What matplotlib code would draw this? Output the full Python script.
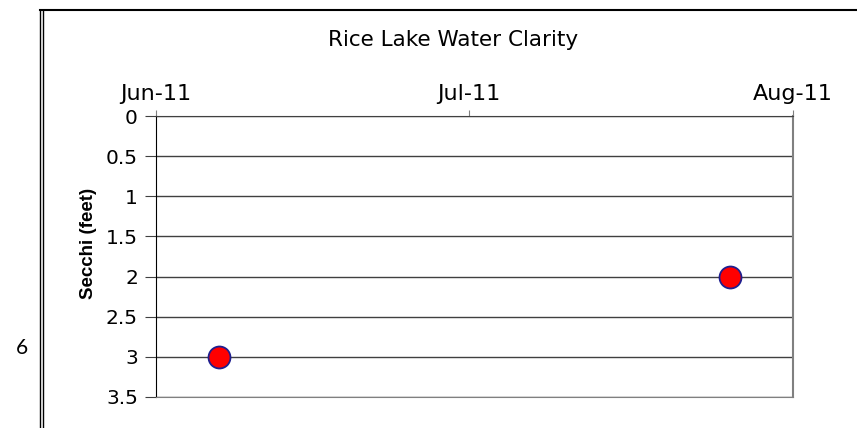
import numpy as np
import matplotlib.pyplot as plt
from datetime import date

plt.rcParams['font.family'] = ['DejaVu Sans']

dates = [date(2011, 6, 7), date(2011, 7, 26)]
secchi = [3.0, 2.0]
x_ticks = [date(2011, 6, 1), date(2011, 7, 1), date(2011, 8, 1)]
x_labels = ['Jun-11', 'Jul-11', 'Aug-11']
y_ticks = np.arange(0, 3.51, 0.5)
y_labels = ['0', '0.5', '1', '1.5', '2', '2.5', '3', '3.5']

fig = plt.figure(figsize=(8.57, 4.28), dpi=100)
ax = fig.add_axes([156/857, 1 - 397/428, (793 - 156)/857, (397 - 116)/428])

ax.scatter(dates, secchi, s=250, color='#ff0000', edgecolor='#1f1f8f',
           linewidth=1.3, zorder=3, clip_on=False)

ax.set_xlim(x_ticks[0], x_ticks[-1])
ax.set_ylim(3.5, 0)
ax.set_xticks(x_ticks)
ax.set_xticklabels(x_labels, fontsize=16)
ax.set_yticks(y_ticks)
ax.set_yticklabels(y_labels, fontsize=14.5)
ax.xaxis.tick_top()
ax.tick_params(axis='x', direction='out', length=4, pad=5, color='#808080')
ax.tick_params(axis='y', direction='out', length=8, pad=5, color='#404040')

ax.grid(axis='y', color='#404040', linewidth=1)
ax.spines['top'].set_color('#404040')
ax.spines['bottom'].set_color('#808080')
ax.spines['left'].set_color('black')
ax.spines['right'].set_color('#808080')
ax.spines['right'].set_linewidth(1.5)

ax.set_ylabel('Secchi (feet)', fontsize=13.5, fontweight='bold',
              family='Liberation Sans')
ax.yaxis.set_label_coords(-0.092, 0.548)

fig.text(453/857, 1 - 40/428, 'Rice Lake Water Clarity', fontsize=15.5,
         ha='center', va='center')

# page frame and page number
fig.add_artist(plt.Line2D([40/857, 1], [1 - 10/428] * 2, color='black', lw=1.5))
fig.add_artist(plt.Line2D([40/857] * 2, [0, 1 - 10/428], color='black', lw=1))
fig.add_artist(plt.Line2D([43/857] * 2, [0, 1 - 10/428], color='black', lw=1))
fig.text(22/857, 1 - 348/428, '6', fontsize=15, ha='center', va='center',
         family='Lato')

fig.savefig('out.png', dpi=100)
